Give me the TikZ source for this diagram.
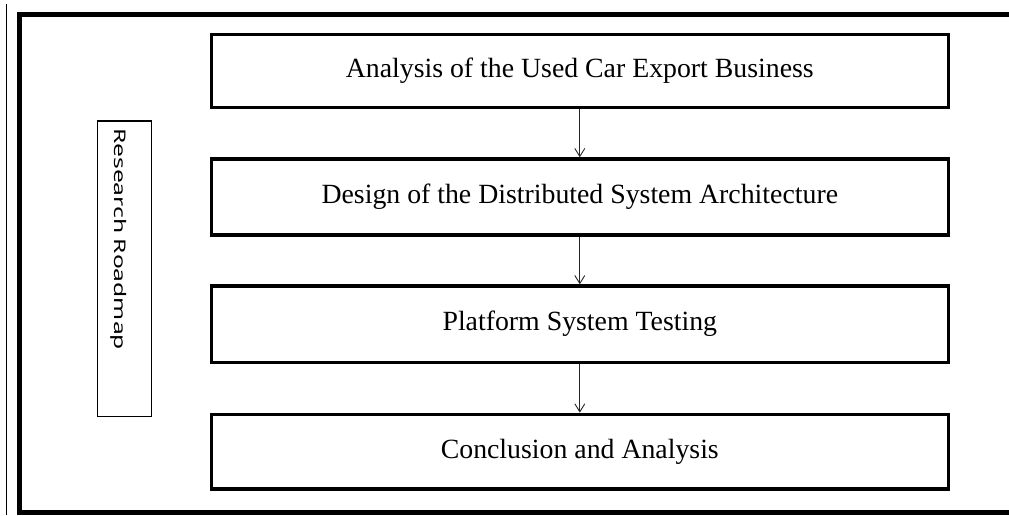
\documentclass[tikz,border=0pt]{standalone}
\usepackage{fontspec}
\usepackage{graphicx}
\setmainfont{Liberation Serif}
\newfontfamily\roadfont{Noto Sans}
\usetikzlibrary{arrows.meta}
\tikzset{
  stage/.style={draw, line width=3.5pt, minimum width=737pt, inner sep=0pt,
    font=\fontsize{27.8}{32}\selectfont},
  flow/.style={draw=black!85, line width=0.9pt,
    -{Straight Barb[length=8pt,width=10pt,line width=0.9pt]}},
  outerframe/.style={line width=4.5pt, line join=miter},
  sideline/.style={line width=1.2pt},
  roadbox/.style={draw, line width=1.2pt, rotate=-90, minimum width=295.5pt,
    minimum height=54pt, text width=281.5pt, inner xsep=7pt, inner ysep=0pt,
    align=left, text height=20pt, text depth=0pt}
}
\begin{document}
\begin{tikzpicture}[x=1pt,y=-1pt]
\useasboundingbox (0,0) rectangle (1009,515);
% outer frame (open on the right)
\coordinate (fa) at (1012,14.7);
\coordinate (fb) at (19.7,14.7);
\coordinate (fc) at (19.7,512.7);
\coordinate (fd) at (1012,512.7);
\draw[outerframe] (fa) -- (fb) -- (fc) -- (fd);
% thin line at the far left
\coordinate (la) at (6.3,4);
\coordinate (lb) at (6.3,515);
\draw[sideline] (la) -- (lb);
% stages
\node[stage, minimum height=73pt]   (s1) at (579.8,71.2)  {Analysis of the Used Car Export Business};
\node[stage, minimum height=76pt]   (s2) at (579.8,197)   {Design of the Distributed System Architecture};
\node[stage, minimum height=76.3pt] (s3) at (579.8,324.2) {Platform System Testing};
\node[stage, minimum height=74.7pt] (s4) at (579.8,451.7) {Conclusion and Analysis};
\draw[flow] (s1) -- (s2);
\draw[flow] (s2) -- (s3);
\draw[flow] (s3) -- (s4);
% side label
\node[roadbox] (road) at (124.5,268.75)
  {\roadfont\fontsize{16}{18}\selectfont\resizebox{222pt}{\height}{Research Roadmap}};
\end{tikzpicture}
\end{document}
